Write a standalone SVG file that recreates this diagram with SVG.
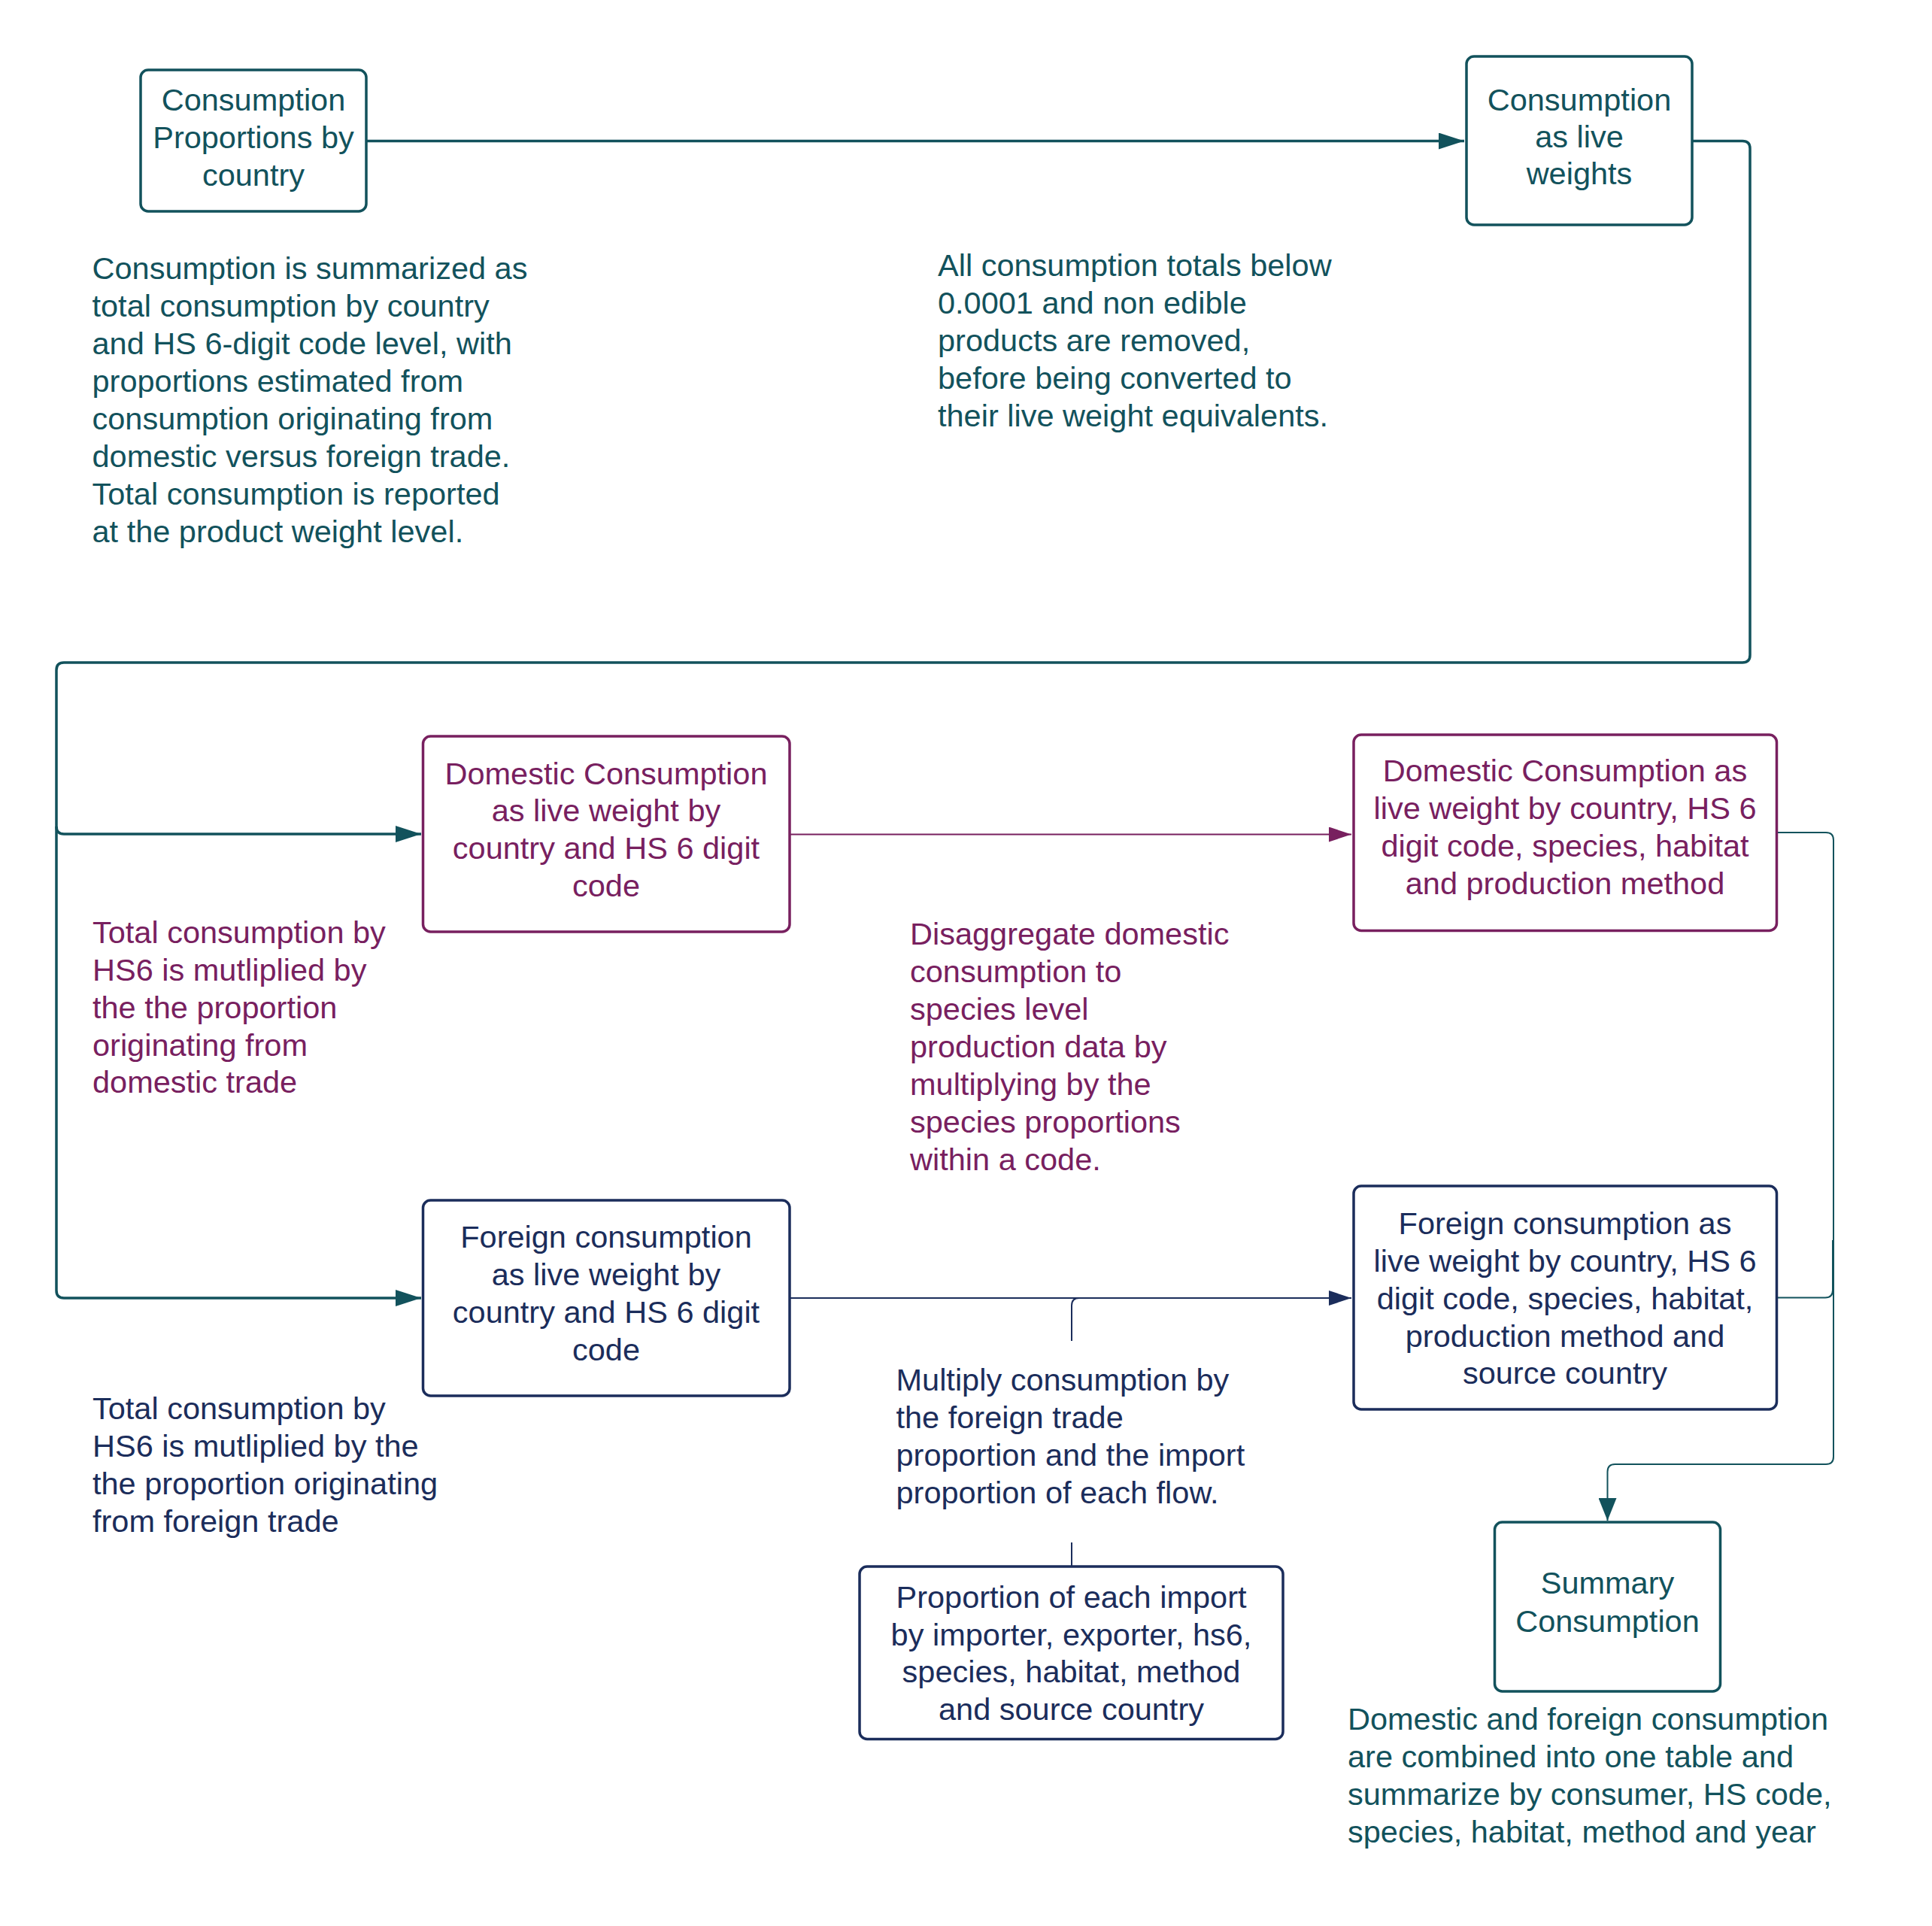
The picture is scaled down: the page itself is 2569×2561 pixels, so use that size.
<svg xmlns="http://www.w3.org/2000/svg" width="2569" height="2561" viewBox="0 0 2569 2561">
<style>
text{font-family:"Liberation Sans",Arial,sans-serif;font-size:41.5px}
.c{text-anchor:middle}
.teal{fill:#12525c}
.pur{fill:#78205f}
.navy{fill:#1b2d5b}
.box{fill:#fff;stroke-width:3.5}
.bt{stroke:#12525c}
.bp{stroke:#78205f}
.bn{stroke:#1b2d5b}
.ln{fill:none;stroke-linejoin:round}
</style>
<defs>
<marker id="aT" markerUnits="userSpaceOnUse" markerWidth="34" markerHeight="22" refX="34" refY="11" orient="auto"><path d="M0,0 L34,11 L0,22 z" fill="#12525c"/></marker>
<marker id="aT2" markerUnits="userSpaceOnUse" markerWidth="30" markerHeight="24" refX="30" refY="12" orient="auto"><path d="M0,0 L30,12 L0,24 z" fill="#12525c"/></marker>
<marker id="aP" markerUnits="userSpaceOnUse" markerWidth="30" markerHeight="20" refX="30" refY="10" orient="auto"><path d="M0,0 L30,10 L0,20 z" fill="#78205f"/></marker>
<marker id="aN" markerUnits="userSpaceOnUse" markerWidth="30" markerHeight="20" refX="30" refY="10" orient="auto"><path d="M0,0 L30,10 L0,20 z" fill="#1b2d5b"/></marker>
</defs>
<rect width="2569" height="2561" fill="#fff"/>

<g id="connectors">
<path class="ln" stroke="#12525c" stroke-width="3.5" d="M487,187.5 H1947" marker-end="url(#aT)"/>
<path class="ln" stroke="#12525c" stroke-width="3.5" d="M2250,187.5 H2317 Q2327,187.5 2327,197.5 V871 Q2327,881 2317,881 H85 Q75,881 75,891 V1716 Q75,1726 85,1726 H560" marker-end="url(#aT)"/>
<path class="ln" stroke="#12525c" stroke-width="3.5" d="M75,1099 Q75,1109 85,1109 H560" marker-end="url(#aT)"/>
<path class="ln" stroke="#78205f" stroke-width="2" d="M1050,1109.5 H1797" marker-end="url(#aP)"/>
<path class="ln" stroke="#1b2d5b" stroke-width="2" d="M1050,1726 H1797" marker-end="url(#aN)"/>
<path class="ln" stroke="#1b2d5b" stroke-width="2" d="M1425,1783 V1736 Q1425,1726 1435,1726"/>
<path class="ln" stroke="#1b2d5b" stroke-width="2" d="M1425,2051 V2083"/>
<path class="ln" stroke="#12525c" stroke-width="2" d="M2363,1107 H2428 Q2438,1107 2438,1117 V1937 Q2438,1947 2428,1947 H2147.5 Q2137.5,1947 2137.5,1957 V2022" marker-end="url(#aT2)"/>
<path class="ln" stroke="#12525c" stroke-width="2" d="M2363,1725.5 H2427 Q2437,1725.5 2437,1715.5 V1649"/>
</g>

<g id="n-proportions">
<rect class="box bt" x="187" y="93" width="300" height="188" rx="10"/>
<text class="c teal" x="337" y="147">Consumption</text>
<text class="c teal" x="337" y="197">Proportions by</text>
<text class="c teal" x="337" y="247">country</text>
</g>

<g id="n-livewt">
<rect class="box bt" x="1950" y="75" width="300" height="224" rx="10"/>
<text class="c teal" x="2100" y="147">Consumption</text>
<text class="c teal" x="2100" y="196">as live</text>
<text class="c teal" x="2100" y="245">weights</text>
</g>

<g id="t-summarized" class="teal">
<text x="122.5" y="371">Consumption is summarized as</text>
<text x="122.5" y="421">total consumption by country</text>
<text x="122.5" y="471">and HS 6-digit code level, with</text>
<text x="122.5" y="521">proportions estimated from</text>
<text x="122.5" y="571">consumption originating from</text>
<text x="122.5" y="621">domestic versus foreign trade.</text>
<text x="122.5" y="671">Total consumption is reported</text>
<text x="122.5" y="721">at the product weight level.</text>
</g>

<g id="t-removed" class="teal">
<text x="1247" y="367">All consumption totals below</text>
<text x="1247" y="417">0.0001 and non edible</text>
<text x="1247" y="467">products are removed,</text>
<text x="1247" y="517">before being converted to</text>
<text x="1247" y="567">their live weight equivalents.</text>
</g>

<g id="n-dom1">
<rect class="box bp" x="562.5" y="979" width="487.5" height="260" rx="10"/>
<text class="c pur" x="806" y="1043">Domestic Consumption</text>
<text class="c pur" x="806" y="1092">as live weight by</text>
<text class="c pur" x="806" y="1142">country and HS 6 digit</text>
<text class="c pur" x="806" y="1192">code</text>
</g>

<g id="n-dom2">
<rect class="box bp" x="1800" y="977" width="562.5" height="260.5" rx="10"/>
<text class="c pur" x="2081" y="1039">Domestic Consumption as</text>
<text class="c pur" x="2081" y="1089">live weight by country, HS 6</text>
<text class="c pur" x="2081" y="1139">digit code, species, habitat</text>
<text class="c pur" x="2081" y="1189">and production method</text>
</g>

<g id="t-domtrade" class="pur">
<text x="123" y="1254">Total consumption by</text>
<text x="123" y="1304">HS6 is mutliplied by</text>
<text x="123" y="1354">the the proportion</text>
<text x="123" y="1404">originating from</text>
<text x="123" y="1453">domestic trade</text>
</g>

<g id="t-disagg" class="pur">
<text x="1210" y="1256">Disaggregate domestic</text>
<text x="1210" y="1306">consumption to</text>
<text x="1210" y="1356">species level</text>
<text x="1210" y="1406">production data by</text>
<text x="1210" y="1456">multiplying by the</text>
<text x="1210" y="1506">species proportions</text>
<text x="1210" y="1556">within a code.</text>
</g>

<g id="n-for1">
<rect class="box bn" x="562.5" y="1596" width="487.5" height="260" rx="10"/>
<text class="c navy" x="806" y="1659">Foreign consumption</text>
<text class="c navy" x="806" y="1709">as live weight by</text>
<text class="c navy" x="806" y="1759">country and HS 6 digit</text>
<text class="c navy" x="806" y="1809">code</text>
</g>

<g id="n-for2">
<rect class="box bn" x="1800" y="1577" width="562.5" height="297" rx="10"/>
<text class="c navy" x="2081" y="1641">Foreign consumption as</text>
<text class="c navy" x="2081" y="1691">live weight by country, HS 6</text>
<text class="c navy" x="2081" y="1741">digit code, species, habitat,</text>
<text class="c navy" x="2081" y="1791">production method and</text>
<text class="c navy" x="2081" y="1840">source country</text>
</g>

<g id="t-fortrade" class="navy">
<text x="123" y="1887">Total consumption by</text>
<text x="123" y="1937">HS6 is mutliplied by the</text>
<text x="123" y="1987">the proportion originating</text>
<text x="123" y="2037">from foreign trade</text>
</g>

<g id="t-multiply" class="navy">
<text x="1191.5" y="1848.5">Multiply consumption by</text>
<text x="1191.5" y="1898.5">the foreign trade</text>
<text x="1191.5" y="1948.5">proportion and the import</text>
<text x="1191.5" y="1998.5">proportion of each flow.</text>
</g>

<g id="n-importprop">
<rect class="box bn" x="1143" y="2083" width="563" height="229.5" rx="10"/>
<text class="c navy" x="1424.5" y="2138">Proportion of each import</text>
<text class="c navy" x="1424.5" y="2188">by importer, exporter, hs6,</text>
<text class="c navy" x="1424.5" y="2237">species, habitat, method</text>
<text class="c navy" x="1424.5" y="2287">and source country</text>
</g>

<g id="n-summary">
<rect class="box bt" x="1987.5" y="2024" width="300" height="225" rx="10"/>
<text class="c teal" x="2137.5" y="2119">Summary</text>
<text class="c teal" x="2137.5" y="2170">Consumption</text>
</g>

<g id="t-combined" class="teal">
<text x="1792" y="2299.5">Domestic and foreign consumption</text>
<text x="1792" y="2349.5">are combined into one table and</text>
<text x="1792" y="2399.5">summarize by consumer, HS code,</text>
<text x="1792" y="2449.5">species, habitat, method and year</text>
</g>
</svg>
